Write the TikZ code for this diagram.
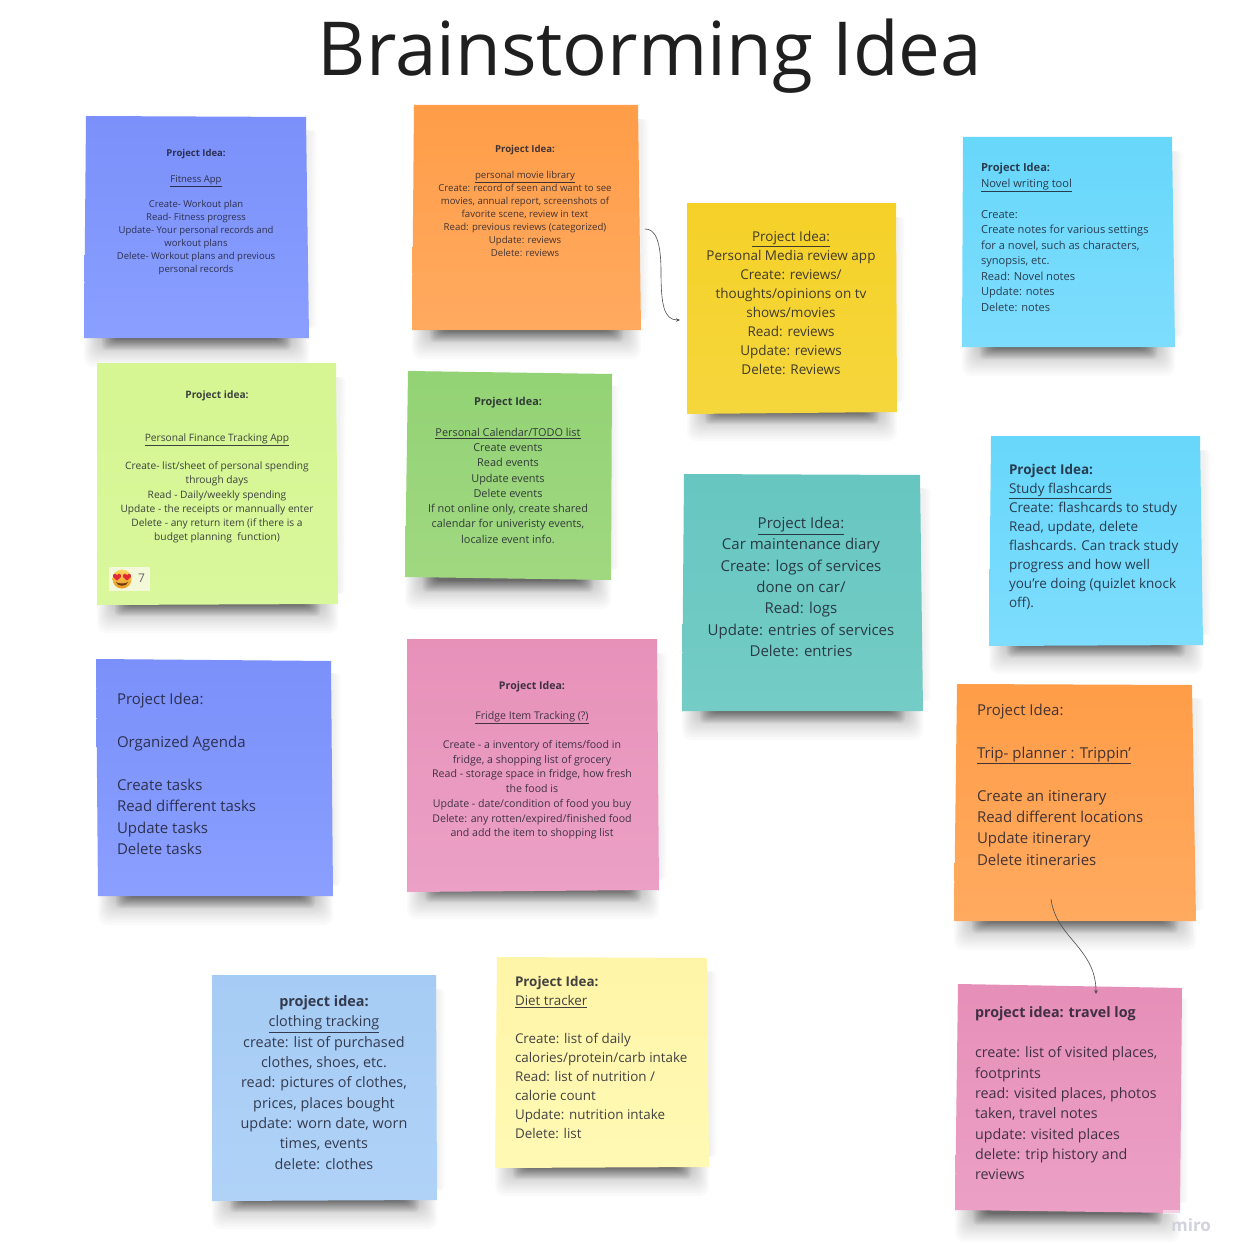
\documentclass[tikz,border=0pt]{standalone}
\usepackage{fontspec}
\setmainfont{Open Sans}
\usetikzlibrary{calc,arrows.meta}
\definecolor{ink}{HTML}{1A1A2A}
\definecolor{badge}{HTML}{F3F8D8}
\definecolor{facetop}{HTML}{FAD860}
\definecolor{facebot}{HTML}{E8961E}
\definecolor{heart}{HTML}{E02B35}
\definecolor{mouth}{HTML}{6B3A10}
\definecolor{miroc}{HTML}{D2D2DC}
\tikzset{
  x=1pt,y=-1pt,
  notetext/.style={text=ink,text opacity=.82,inner sep=0pt,outer sep=0pt},
  ctext/.style={notetext,align=center,anchor=center},
  ltext/.style={notetext,align=left,anchor=west},
  link/.style={draw=black!70,line width=.6pt,-{Stealth[length=4pt,width=3.5pt]}}
}
\newcommand{\fs}[2]{\fontsize{#1}{#2}\selectfont}
% corners TL TR BR BL, colours top, bottom
\newcommand{\stickynote}[6]{%
  \definecolor{ntop}{HTML}{#5}\definecolor{nbot}{HTML}{#6}%
  \coordinate (tl) at #1; \coordinate (tr) at #2; \coordinate (br) at #3; \coordinate (bl) at #4;
  \foreach \i in {1,...,5}{
    \fill[black,opacity=.012,rounded corners=4pt]
      ($(tl)+(14,14)$) rectangle ($(br)+({\i*1.6},-10)$);
  }
  \foreach \i in {1,...,20}{
    \fill[black,opacity=.019,rounded corners=9pt]
      ($(bl)+({32-\i*1.6},-12)$) rectangle ($(br)+({-32+\i*1.6},{1+0.07*\i*\i})$);
  }
  \foreach \i in {1,...,10}{
    \fill[black,opacity=.04,rounded corners=4pt]
      ($(bl)+({32-\i*1.4},-6)$) rectangle ($(br)+({-32+\i*1.4},{\i*1.2})$);
  }
  \shade[top color=ntop,bottom color=nbot] (tl)--(tr)--(br)--(bl)--cycle;
}
\begin{document}
\begin{tikzpicture}
\useasboundingbox[fill=white] (0,0) rectangle (1239,1260);

\node[text=black!88,inner sep=0pt,font=\fs{74.5}{80}] (title) at (650,56.6) {Brainstorming Idea};

% 1 Fitness
\stickynote{(86,116)}{(306,117)}{(309,338)}{(84,338)}{7B90FA}{8A9FFF}
\node[ctext,font=\fs{9.5}{13}] (fitness) at (196,212) {\textbf{Project Idea:}\\~\\\underline{Fitness App}\\~\\[-1pt]Create- Workout plan\\Read- Fitness progress\\Update- Your personal records and\\workout plans\\Delete- Workout plans and previous\\personal records};

% 2 movie
\stickynote{(414,105)}{(638,105)}{(641,330)}{(412,330)}{FF9D48}{FFAA60}
\node[ctext,font=\fs{9.6}{13}] (movie) at (525,200.5) {\textbf{Project Idea:}\\~\\\underline{personal movie library}\\Create: record of seen and want to see\\movies, annual report, screenshots of\\favorite scene, review in text\\Read: previous reviews (categorized)\\Update: reviews\\Delete: reviews};

% 3 media
\stickynote{(687,203)}{(896,203)}{(897,412)}{(687,414)}{F5D128}{F5D63C}
\node[ctext,font=\fs{13.5}{19}] (media) at (791,303) {\underline{Project Idea:}\\Personal Media review app\\Create: reviews/\\thoughts/opinions on tv\\shows/movies\\Read: reviews\\Update: reviews\\Delete: Reviews};

% 4 novel
\stickynote{(963,137)}{(1172,137)}{(1175,347)}{(962,347)}{67D7FA}{7EDDFE}
\node[ltext,font=\fs{11.1}{15.5}] (novel) at (981,237.5) {\textbf{Project Idea:}\\\underline{Novel writing tool}\\~\\Create:\\Create notes for various settings\\for a novel, such as characters,\\synopsis, etc.\\Read: Novel notes\\Update: notes\\Delete: notes};

% 5 finance
\stickynote{(97,363)}{(336,363)}{(338,604)}{(97,605)}{D5F692}{D9F79C}
\node[ctext,font=\fs{10.2}{14.2}] (finance) at (217,467) {\textbf{Project idea:}\\~\\~\\\underline{Personal Finance Tracking App}\\~\\Create- list/sheet of personal spending\\through days\\Read - Daily/weekly spending\\Update - the receipts or mannually enter\\Delete - any return item (if there is a\\budget planning\ \ function)};
\fill[badge] (109,567) rectangle (150,591);
\node[circle,inner sep=0pt,minimum size=19pt,top color=facetop,bottom color=facebot] (face) at (122,579) {};
\fill[heart] (117,575.2) .. controls (115.5,572.5) and (112,574) .. (113.2,577) .. controls (114,578.5) and (116,579.5) .. (117,580.5) .. controls (118,579.5) and (120,578.5) .. (120.8,577) .. controls (122,574) and (118.5,572.5) .. (117,575.2) -- cycle;
\fill[heart] (127,575.2) .. controls (125.5,572.5) and (122,574) .. (123.2,577) .. controls (124,578.5) and (126,579.5) .. (127,580.5) .. controls (128,579.5) and (130,578.5) .. (130.8,577) .. controls (132,574) and (128.5,572.5) .. (127,575.2) -- cycle;
\fill[mouth] (116,582) .. controls (118,584) and (126,584) .. (128,582) .. controls (127,587) and (117,587) .. (116,582) -- cycle;
\node[text=black!60,inner sep=0pt,font=\fs{12}{14}] (count) at (141.5,578) {7};

% 6 calendar
\stickynote{(408,371)}{(612,374)}{(611,580)}{(405,577)}{93D275}{A0D880}
\node[ctext,font=\fs{10.9}{15.25}] (calendar) at (508,470.5) {\textbf{Project Idea:}\\~\\\underline{Personal Calendar/TODO list}\\Create events\\Read events\\Update events\\Delete events\\If not online only, create shared\\calendar for univeristy events,\\localize event info.};

% 7 car
\stickynote{(684,474)}{(920,475)}{(923,711)}{(682,711)}{67C6C0}{74CCC6}
\node[ctext,font=\fs{15}{21.3}] (car) at (801,587) {\underline{Project Idea:}\\Car maintenance diary\\Create: logs of services\\done on car/\\Read: logs\\Update: entries of services\\Delete: entries};

% 8 flashcards
\stickynote{(991,436)}{(1200,436)}{(1203,645)}{(989,646)}{67D7FA}{7EDDFE}
\node[ltext,font=\fs{13.5}{19}] (flash) at (1009,536.5) {\textbf{Project Idea:}\\\underline{Study flashcards}\\Create: flashcards to study\\Read, update, delete\\flashcards. Can track study\\progress and how well\\you're doing (quizlet knock\\off).};

% 9 agenda
\stickynote{(96,659)}{(331,661)}{(333,896)}{(98,896)}{7B90FA}{8A9FFF}
\node[ltext,font=\fs{15}{21.4}] (agenda) at (117,774) {Project Idea:\\~\\Organized Agenda\\~\\Create tasks\\Read different tasks\\Update tasks\\Delete tasks};

% 10 fridge
\stickynote{(407,639)}{(657,639)}{(659,890)}{(407,892)}{E791B9}{ECA0C5}
\node[ctext,font=\fs{10.6}{14.7}] (fridge) at (532,760.5) {\textbf{Project Idea:}\\~\\\underline{Fridge Item Tracking (?)}\\~\\Create - a inventory of items/food in\\fridge, a shopping list of grocery\\Read - storage space in fridge, how fresh\\the food is\\Update - date/condition of food you buy\\Delete: any rotten/expired/finished food\\and add the item to shopping list};

% 11 trip
\stickynote{(957,684)}{(1192,685)}{(1196,921)}{(954,921)}{FF9D48}{FFAA60}
\node[ltext,font=\fs{15}{21.4}] (trip) at (977,784.7) {Project Idea:\\~\\\underline{Trip- planner : Trippin'}\\~\\Create an itinerary\\Read different locations\\Update itinerary\\Delete itineraries};

% 12 clothing
\stickynote{(212,975)}{(436,975)}{(437,1200)}{(212,1201)}{A6CCF5}{B0D2F7}
\node[ctext,font=\fs{14.4}{20.3}] (clothing) at (324,1082.5) {\textbf{project idea:}\\\underline{clothing tracking}\\create: list of purchased\\clothes, shoes, etc.\\read: pictures of clothes,\\prices, places bought\\update: worn date, worn\\times, events\\delete: clothes};

% 13 diet
\stickynote{(497,957)}{(707,958)}{(709,1167)}{(495,1168)}{FFF5A8}{FFF9B4}
\node[ltext,font=\fs{13.4}{19}] (diet) at (515,1057.5) {\textbf{Project Idea:}\\\underline{Diet tracker}\\~\\Create: list of daily\\calories/protein/carb intake\\Read: list of nutrition /\\calorie count\\Update: nutrition intake\\Delete: list};

% 14 travel
\stickynote{(958,984)}{(1182,988)}{(1180,1213)}{(955,1210)}{E68FB8}{ECA0C5}
\node[ltext,font=\fs{14.3}{20.3}] (travel) at (975,1093.2) {\textbf{project idea: travel log}\\~\\create: list of visited places,\\footprints\\read: visited places, photos\\taken, travel notes\\update: visited places\\delete: trip history and\\reviews};
\fill[white,opacity=.5] (1163,1210) rectangle (1181,1214);

% connectors
\coordinate (a1) at (645,229);
\coordinate (a2) at (680,320);
\coordinate (b1) at (1051,899);
\coordinate (b2) at (1096,994);
\draw[link] (a1) .. controls (655,229) and (661,240) .. (661,272) .. controls (661,305) and (664,320) .. (a2);
\draw[link] (b1) .. controls (1056,938) and (1096,948) .. (b2);

\node[text=miroc,inner sep=0pt,font=\fs{17}{18}\bfseries] (miro) at (1191,1225) {miro};
\end{tikzpicture}
\end{document}
